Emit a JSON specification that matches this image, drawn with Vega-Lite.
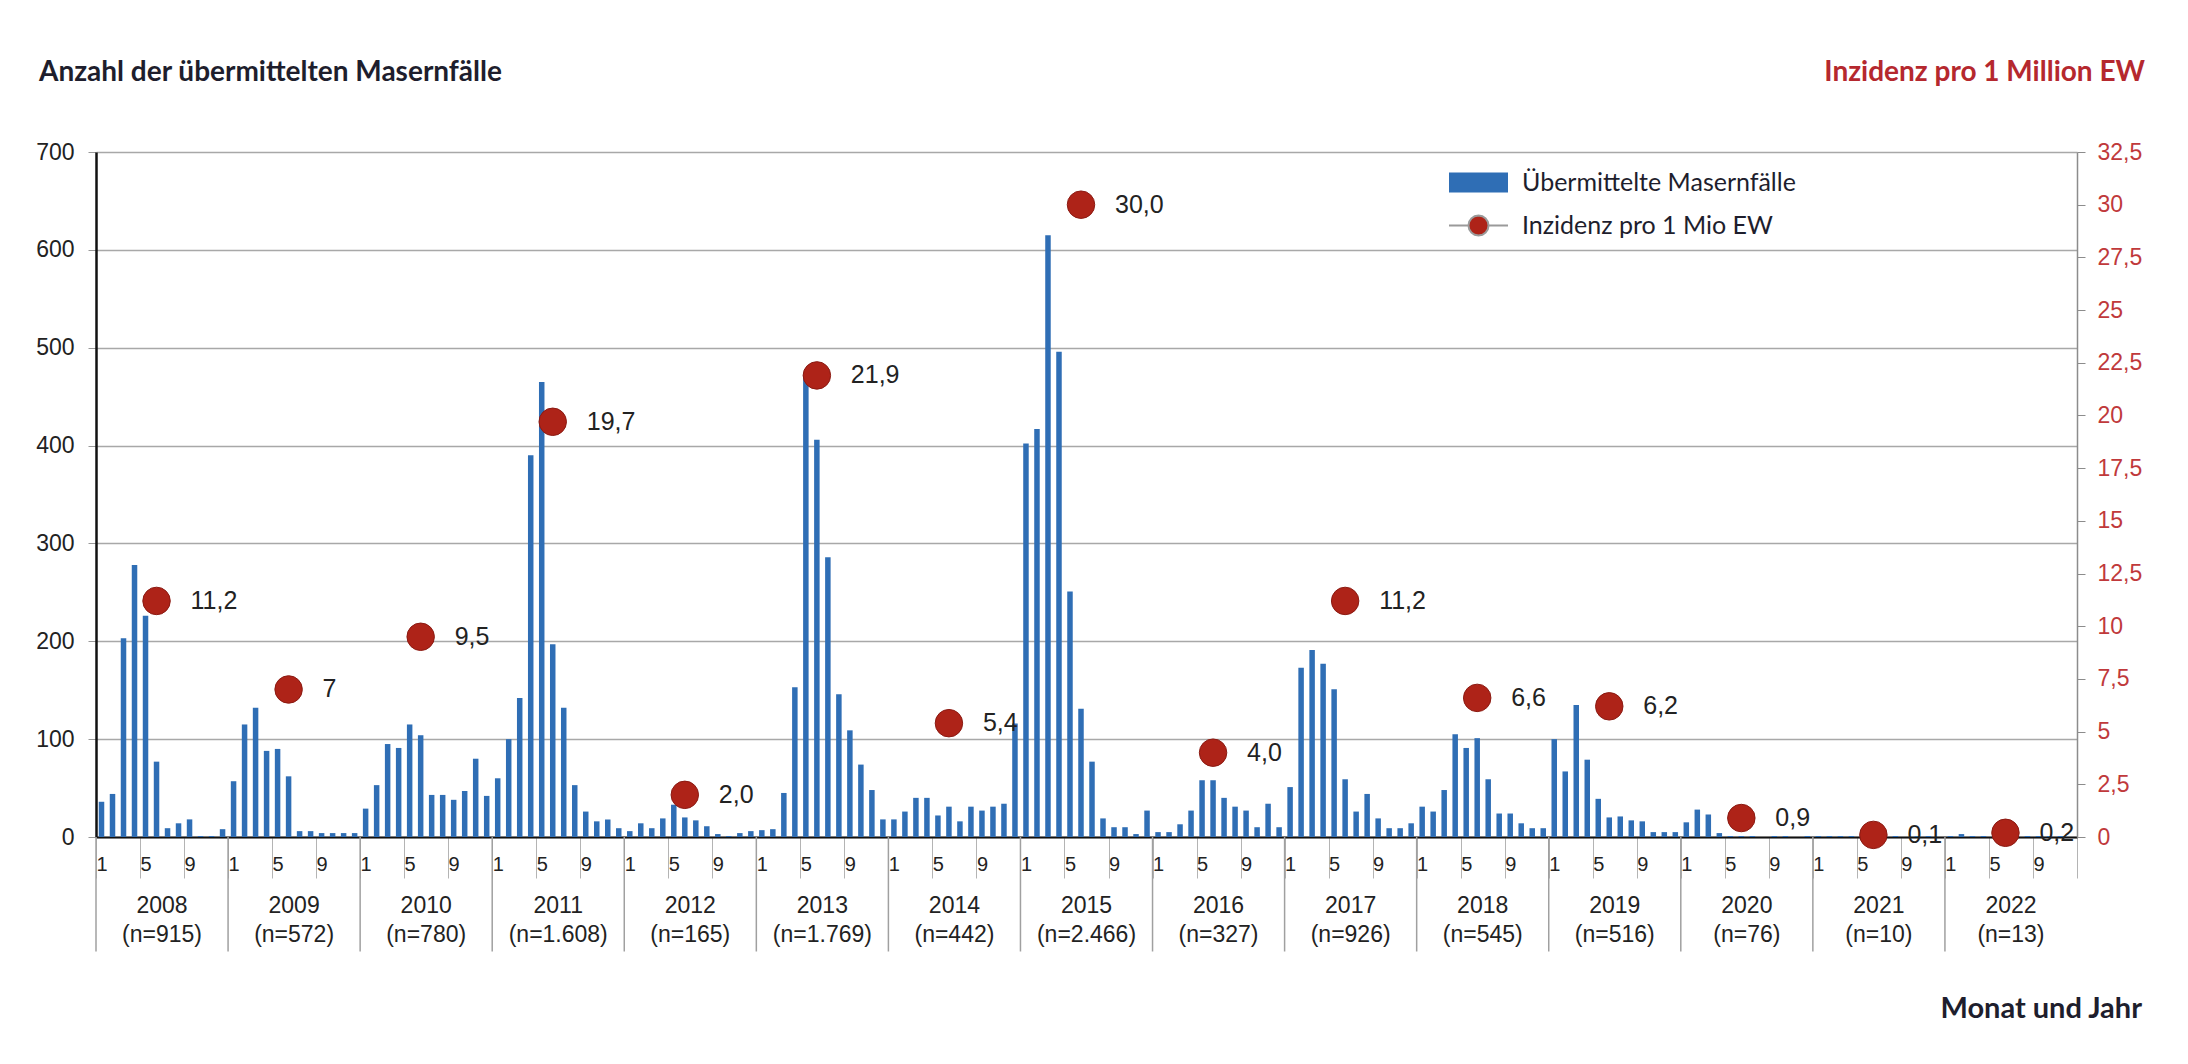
{
  "$schema": "https://vega.github.io/schema/vega-lite/v6.json",
  "width": 1981,
  "height": 685,
  "autosize": {"type": "none"},
  "padding": {"left": 96, "top": 152, "right": 111, "bottom": 227},
  "background": "white",
  "config": {"view": {"stroke": null}, "aria": false, "mark": {"invalid": null}, "axis": {"labelFont": "Liberation Sans", "labelOverlap": false}},
  "datasets": {
    "months": [
      {"m":0,"cases":36},{"m":1,"cases":44},{"m":2,"cases":203},{"m":3,"cases":278},{"m":4,"cases":226},{"m":5,"cases":77},{"m":6,"cases":9},{"m":7,"cases":14},{"m":8,"cases":18},{"m":9,"cases":1},{"m":10,"cases":1},{"m":11,"cases":8},
      {"m":12,"cases":57},{"m":13,"cases":115},{"m":14,"cases":132},{"m":15,"cases":88},{"m":16,"cases":90},{"m":17,"cases":62},{"m":18,"cases":6},{"m":19,"cases":6},{"m":20,"cases":4},{"m":21,"cases":4},{"m":22,"cases":4},{"m":23,"cases":4},
      {"m":24,"cases":29},{"m":25,"cases":53},{"m":26,"cases":95},{"m":27,"cases":91},{"m":28,"cases":115},{"m":29,"cases":104},{"m":30,"cases":43},{"m":31,"cases":43},{"m":32,"cases":38},{"m":33,"cases":47},{"m":34,"cases":80},{"m":35,"cases":42},
      {"m":36,"cases":60},{"m":37,"cases":100},{"m":38,"cases":142},{"m":39,"cases":390},{"m":40,"cases":465},{"m":41,"cases":197},{"m":42,"cases":132},{"m":43,"cases":53},{"m":44,"cases":26},{"m":45,"cases":16},{"m":46,"cases":18},{"m":47,"cases":9},
      {"m":48,"cases":6},{"m":49,"cases":14},{"m":50,"cases":9},{"m":51,"cases":19},{"m":52,"cases":33},{"m":53,"cases":20},{"m":54,"cases":17},{"m":55,"cases":11},{"m":56,"cases":3},{"m":57,"cases":1},{"m":58,"cases":4},{"m":59,"cases":6},
      {"m":60,"cases":7},{"m":61,"cases":8},{"m":62,"cases":45},{"m":63,"cases":153},{"m":64,"cases":472},{"m":65,"cases":406},{"m":66,"cases":286},{"m":67,"cases":146},{"m":68,"cases":109},{"m":69,"cases":74},{"m":70,"cases":48},{"m":71,"cases":18},
      {"m":72,"cases":18},{"m":73,"cases":26},{"m":74,"cases":40},{"m":75,"cases":40},{"m":76,"cases":22},{"m":77,"cases":31},{"m":78,"cases":16},{"m":79,"cases":31},{"m":80,"cases":27},{"m":81,"cases":31},{"m":82,"cases":34},{"m":83,"cases":116},
      {"m":84,"cases":402},{"m":85,"cases":417},{"m":86,"cases":615},{"m":87,"cases":496},{"m":88,"cases":251},{"m":89,"cases":131},{"m":90,"cases":77},{"m":91,"cases":19},{"m":92,"cases":10},{"m":93,"cases":10},{"m":94,"cases":3},{"m":95,"cases":27},
      {"m":96,"cases":5},{"m":97,"cases":5},{"m":98,"cases":13},{"m":99,"cases":27},{"m":100,"cases":58},{"m":101,"cases":58},{"m":102,"cases":40},{"m":103,"cases":31},{"m":104,"cases":27},{"m":105,"cases":10},{"m":106,"cases":34},{"m":107,"cases":10},
      {"m":108,"cases":51},{"m":109,"cases":173},{"m":110,"cases":191},{"m":111,"cases":177},{"m":112,"cases":151},{"m":113,"cases":59},{"m":114,"cases":26},{"m":115,"cases":44},{"m":116,"cases":19},{"m":117,"cases":9},{"m":118,"cases":9},{"m":119,"cases":14},
      {"m":120,"cases":31},{"m":121,"cases":26},{"m":122,"cases":48},{"m":123,"cases":105},{"m":124,"cases":91},{"m":125,"cases":101},{"m":126,"cases":59},{"m":127,"cases":24},{"m":128,"cases":24},{"m":129,"cases":14},{"m":130,"cases":9},{"m":131,"cases":9},
      {"m":132,"cases":100},{"m":133,"cases":67},{"m":134,"cases":135},{"m":135,"cases":79},{"m":136,"cases":39},{"m":137,"cases":20},{"m":138,"cases":21},{"m":139,"cases":17},{"m":140,"cases":16},{"m":141,"cases":5},{"m":142,"cases":5},{"m":143,"cases":5},
      {"m":144,"cases":15},{"m":145,"cases":28},{"m":146,"cases":23},{"m":147,"cases":4},{"m":148,"cases":1},{"m":149,"cases":1},{"m":150,"cases":1},{"m":151,"cases":0},{"m":152,"cases":1},{"m":153,"cases":1},{"m":154,"cases":0},{"m":155,"cases":1},
      {"m":156,"cases":1},{"m":157,"cases":1},{"m":158,"cases":1},{"m":159,"cases":1},{"m":160,"cases":1},{"m":161,"cases":1},{"m":162,"cases":1},{"m":163,"cases":1},{"m":164,"cases":0},{"m":165,"cases":1},{"m":166,"cases":1},{"m":167,"cases":0},
      {"m":168,"cases":1},{"m":169,"cases":3},{"m":170,"cases":1},{"m":171,"cases":1},{"m":172,"cases":1},{"m":173,"cases":1},{"m":174,"cases":1},{"m":175,"cases":1},{"m":176,"cases":1},{"m":177,"cases":1},{"m":178,"cases":1},{"m":179,"cases":0}
    ],
    "years": [
      {"y0":-0.5,"mid":5.5,"jun":5,"yl":"2008|(n=915)","inc":11.2,"lbl":"11,2"},
      {"y0":11.5,"mid":17.5,"jun":17,"yl":"2009|(n=572)","inc":7,"lbl":"7"},
      {"y0":23.5,"mid":29.5,"jun":29,"yl":"2010|(n=780)","inc":9.5,"lbl":"9,5"},
      {"y0":35.5,"mid":41.5,"jun":41,"yl":"2011|(n=1.608)","inc":19.7,"lbl":"19,7"},
      {"y0":47.5,"mid":53.5,"jun":53,"yl":"2012|(n=165)","inc":2.0,"lbl":"2,0"},
      {"y0":59.5,"mid":65.5,"jun":65,"yl":"2013|(n=1.769)","inc":21.9,"lbl":"21,9"},
      {"y0":71.5,"mid":77.5,"jun":77,"yl":"2014|(n=442)","inc":5.4,"lbl":"5,4"},
      {"y0":83.5,"mid":89.5,"jun":89,"yl":"2015|(n=2.466)","inc":30.0,"lbl":"30,0"},
      {"y0":95.5,"mid":101.5,"jun":101,"yl":"2016|(n=327)","inc":4.0,"lbl":"4,0"},
      {"y0":107.5,"mid":113.5,"jun":113,"yl":"2017|(n=926)","inc":11.2,"lbl":"11,2"},
      {"y0":119.5,"mid":125.5,"jun":125,"yl":"2018|(n=545)","inc":6.6,"lbl":"6,6"},
      {"y0":131.5,"mid":137.5,"jun":137,"yl":"2019|(n=516)","inc":6.2,"lbl":"6,2"},
      {"y0":143.5,"mid":149.5,"jun":149,"yl":"2020|(n=76)","inc":0.9,"lbl":"0,9"},
      {"y0":155.5,"mid":161.5,"jun":161,"yl":"2021|(n=10)","inc":0.1,"lbl":"0,1"},
      {"y0":167.5,"mid":173.5,"jun":173,"yl":"2022|(n=13)","inc":0.2,"lbl":"0,2"}
    ]
  },
  "layer": [
    {
      "data": {"name": "months"},
      "mark": {"type": "bar", "orient": "vertical", "size": 5.5},
      "encoding": {
        "x": {
          "field": "m", "type": "quantitative",
          "scale": {"domain": [-0.5, 179.5], "nice": false, "zero": false, "padding": 0},
          "axis": {
            "orient": "bottom", "title": null, "grid": false,
            "values": [-0.5,0.5,1.5,2.5,3.5,4.5,5.5,6.5,7.5,8.5,9.5,10.5,11.5,12.5,13.5,14.5,15.5,16.5,17.5,18.5,19.5,20.5,21.5,22.5,23.5,24.5,25.5,26.5,27.5,28.5,29.5,30.5,31.5,32.5,33.5,34.5,35.5,36.5,37.5,38.5,39.5,40.5,41.5,42.5,43.5,44.5,45.5,46.5,47.5,48.5,49.5,50.5,51.5,52.5,53.5,54.5,55.5,56.5,57.5,58.5,59.5,60.5,61.5,62.5,63.5,64.5,65.5,66.5,67.5,68.5,69.5,70.5,71.5,72.5,73.5,74.5,75.5,76.5,77.5,78.5,79.5,80.5,81.5,82.5,83.5,84.5,85.5,86.5,87.5,88.5,89.5,90.5,91.5,92.5,93.5,94.5,95.5,96.5,97.5,98.5,99.5,100.5,101.5,102.5,103.5,104.5,105.5,106.5,107.5,108.5,109.5,110.5,111.5,112.5,113.5,114.5,115.5,116.5,117.5,118.5,119.5,120.5,121.5,122.5,123.5,124.5,125.5,126.5,127.5,128.5,129.5,130.5,131.5,132.5,133.5,134.5,135.5,136.5,137.5,138.5,139.5,140.5,141.5,142.5,143.5,144.5,145.5,146.5,147.5,148.5,149.5,150.5,151.5,152.5,153.5,154.5,155.5,156.5,157.5,158.5,159.5,160.5,161.5,162.5,163.5,164.5,165.5,166.5,167.5,168.5,169.5,170.5,171.5,172.5,173.5,174.5,175.5,176.5,177.5,178.5,179.5],
            "domain": true, "domainColor": "#111111", "domainWidth": 2,
            "ticks": true, "tickSize": 41, "tickColor": "#b4b4b4", "tickWidth": 1,
            "labelExpr": "(datum.value + 0.5) % 2 == 0 && datum.value < 179 ? toString((datum.value + 0.5) % 12 + 1) : ''",
            "labelFontSize": 20, "labelColor": "#222222", "labelPadding": -24, "labelOffset": 5.5,
            "labelAngle": 0, "labelOverlap": false, "labelFlush": false, "labelBound": false, "labelSeparation": 0
          }
        },
        "y": {
          "field": "cases", "type": "quantitative", "stack": null,
          "scale": {"domain": [0, 700], "nice": false},
          "axis": {
            "orient": "left", "values": [0, 100, 200, 300, 400, 500, 600, 700],
            "grid": true, "gridColor": "#a8a8a8", "gridWidth": 1.5,
            "domain": true, "domainColor": "#111111", "domainWidth": 2.5,
            "ticks": true, "tickColor": "#999999", "tickSize": 8,
            "labelFontSize": 23, "labelColor": "#222222", "labelPadding": 14,
            "title": null
          }
        },
        "color": {
          "datum": "Übermittelte Masernfälle",
          "scale": {"range": ["#2F6EB5"]},
          "legend": {
            "orient": "none", "legendX": 1352, "legendY": 0, "title": null,
            "symbolType": "M-1,-0.34L1,-0.34L1,0.34L-1,0.34Z", "symbolSize": 3481,
            "labelFont": "Lato", "labelFontSize": 25, "labelColor": "#1e1e2d", "labelOffset": 13, "labelLimit": 600
          }
        }
      }
    },
    {
      "data": {"name": "years"},
      "mark": {"type": "point", "filled": true, "size": 755, "opacity": 1, "stroke": "#8B1A12", "strokeWidth": 1},
      "encoding": {
        "x": {"field": "jun", "type": "quantitative"},
        "y": {
          "field": "inc", "type": "quantitative",
          "scale": {"domain": [0, 32.5], "nice": false},
          "axis": {
            "orient": "right", "values": [0, 2.5, 5, 7.5, 10, 12.5, 15, 17.5, 20, 22.5, 25, 27.5, 30, 32.5],
            "grid": false,
            "domain": true, "domainColor": "#8c8c8c", "domainWidth": 1.5,
            "ticks": true, "tickColor": "#8c8c8c", "tickSize": 8,
            "labelExpr": "replace(toString(datum.value), '.', ',')",
            "labelFontSize": 23, "labelColor": "#C0393B", "labelPadding": 12,
            "title": null
          }
        },
        "fill": {
          "datum": "Inzidenz pro 1 Mio EW",
          "scale": {"range": ["#AE2318"]},
          "legend": {
            "orient": "none", "legendX": 1352, "legendY": 43, "title": null,
            "symbolType": "M-1,0L-0.34,0M0.34,0L1,0M0.34,0L0.314,0.13L0.24,0.24L0.13,0.314L0,0.34L-0.13,0.314L-0.24,0.24L-0.314,0.13L-0.34,0L-0.314,-0.13L-0.24,-0.24L-0.13,-0.314L0,-0.34L0.13,-0.314L0.24,-0.24L0.314,-0.13Z",
            "symbolSize": 3481, "symbolStrokeColor": "#9a9a9a", "symbolStrokeWidth": 2,
            "labelFont": "Lato", "labelFontSize": 25, "labelColor": "#1e1e2d", "labelOffset": 13, "labelLimit": 600
          }
        }
      }
    },
    {
      "data": {"name": "years"},
      "mark": {"type": "text", "align": "left", "baseline": "middle", "dx": 34, "font": "Liberation Sans", "fontSize": 25, "color": "#222222"},
      "encoding": {
        "x": {"field": "jun", "type": "quantitative"},
        "y": {"field": "inc", "type": "quantitative", "scale": {"domain": [0, 32.5], "nice": false}, "axis": null},
        "text": {"field": "lbl"}
      }
    },
    {
      "data": {"name": "years"},
      "mark": {"type": "rule", "color": "#a0a0a0", "strokeWidth": 1.5},
      "encoding": {
        "x": {"field": "y0", "type": "quantitative"},
        "y": {"datum": 0, "type": "quantitative", "scale": {"domain": [0, 700], "nice": false}, "axis": null},
        "y2": {"datum": -117}
      }
    },
    {
      "data": {"name": "years"},
      "mark": {"type": "text", "align": "center", "baseline": "top", "lineBreak": "|", "lineHeight": 29, "font": "Liberation Sans", "fontSize": 23, "color": "#222222"},
      "encoding": {
        "x": {"field": "mid", "type": "quantitative"},
        "y": {"datum": -59, "type": "quantitative", "scale": {"domain": [0, 700], "nice": false}, "axis": null},
        "text": {"field": "yl"}
      }
    },
    {
      "data": {"name": "years"},
      "transform": [{"filter": "datum.y0 < 0"}],
      "mark": {"type": "text", "align": "left", "baseline": "alphabetic", "dx": -57, "font": "Lato", "fontWeight": "bold", "fontSize": 28, "color": "#1e1e2d", "text": "Anzahl der übermittelten Masernfälle"},
      "encoding": {
        "x": {"field": "y0", "type": "quantitative"},
        "y": {"datum": 772.5, "type": "quantitative", "scale": {"domain": [0, 700], "nice": false}, "axis": null}
      }
    },
    {
      "data": {"name": "years"},
      "transform": [{"filter": "datum.y0 > 167"}],
      "mark": {"type": "text", "align": "right", "baseline": "alphabetic", "dx": 134, "font": "Lato", "fontWeight": "bold", "fontSize": 28, "color": "#B5282E", "text": "Inzidenz pro 1 Million EW"},
      "encoding": {
        "x": {"field": "mid", "type": "quantitative"},
        "y": {"datum": 772.5, "type": "quantitative", "scale": {"domain": [0, 700], "nice": false}, "axis": null}
      }
    },
    {
      "data": {"name": "years"},
      "transform": [{"filter": "datum.y0 > 167"}],
      "mark": {"type": "text", "align": "right", "baseline": "alphabetic", "dx": 131, "font": "Lato", "fontWeight": "bold", "fontSize": 29, "color": "#1e1e2d", "text": "Monat und Jahr"},
      "encoding": {
        "x": {"field": "mid", "type": "quantitative"},
        "y": {"datum": -185, "type": "quantitative", "scale": {"domain": [0, 700], "nice": false}, "axis": null}
      }
    }
  ],
  "resolve": {"scale": {"y": "independent"}}
}
